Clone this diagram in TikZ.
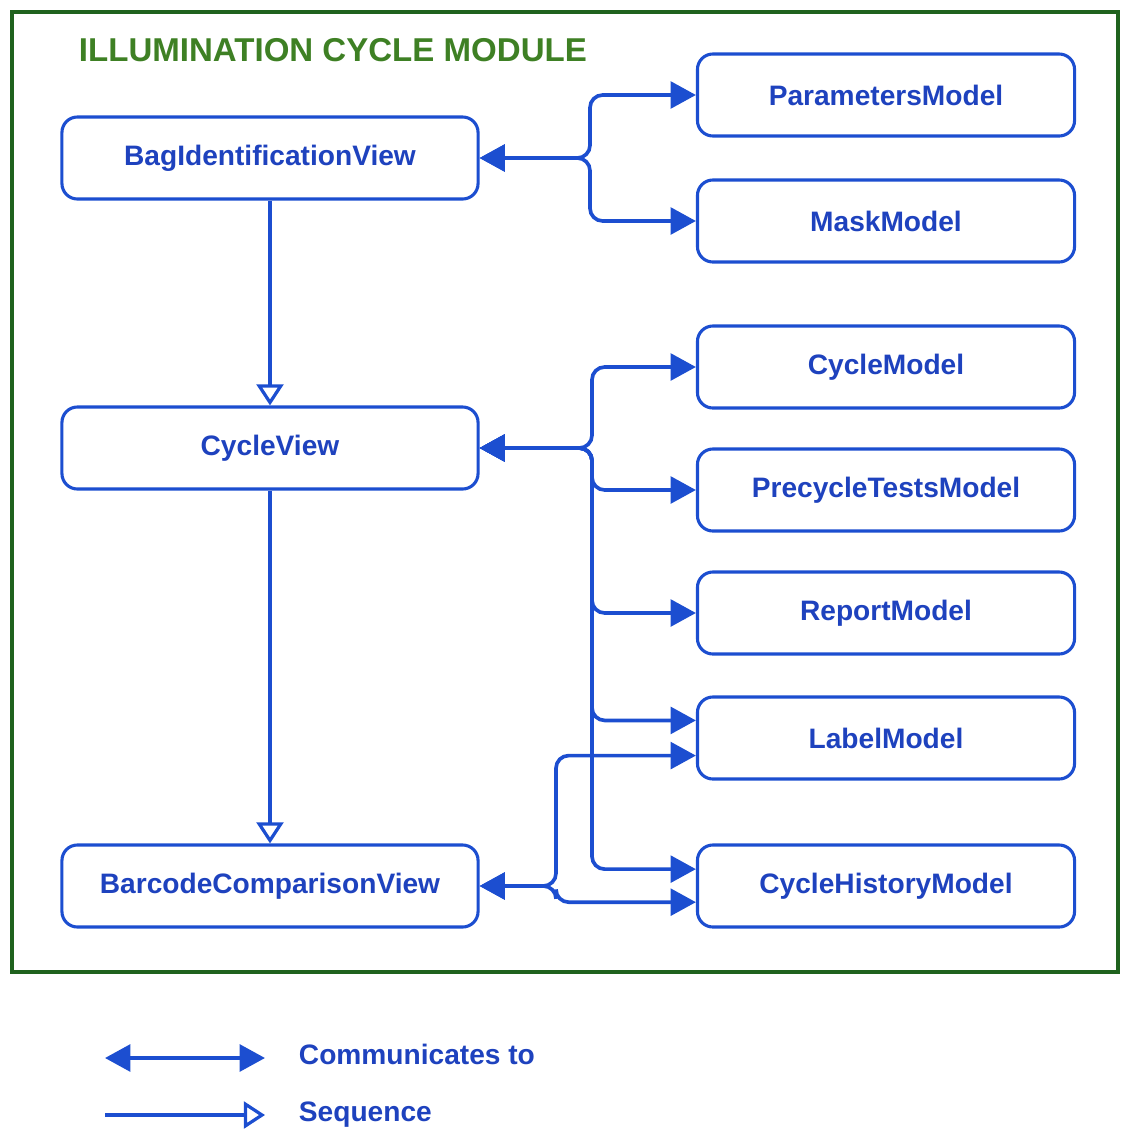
\documentclass[tikz,border=0pt]{standalone}
\usepackage{fontspec}
\setmainfont{Liberation Sans}
\usepackage{tikz}
\usetikzlibrary{arrows.meta, positioning}

\definecolor{cblue}{RGB}{28,78,208}
\definecolor{ctext}{RGB}{30,66,190}
\definecolor{ctitle}{RGB}{62,128,36}
\definecolor{cframe}{RGB}{32,98,30}

\tikzset{
  viewbox/.style={draw=cblue, line width=2.2pt, rounded corners=11pt, fill=white,
    minimum width=10.4cm, minimum height=2.05cm, text=ctext,
    font=\bfseries\fontsize{20}{24}\selectfont},
  modelbox/.style={viewbox, minimum width=9.425cm},
  comm/.style={draw=cblue, line width=2.6pt, rounded corners=9pt,
    {Triangle[length=18pt,width=19pt]}-{Triangle[length=18pt,width=19pt]}},
  seq/.style={draw=cblue, line width=2.3pt,
    -{Triangle[open,length=15pt,width=19pt]}},
  legendtext/.style={anchor=west, text=ctext, font=\bfseries\fontsize{20}{24}\selectfont}
}

\begin{document}
\begin{tikzpicture}[x=0.025cm, y=-0.025cm]
  \useasboundingbox (0,0) rectangle (1121,1131);
  % Module frame and title
  \draw[cframe, line width=2.2pt] (12,12) rectangle (1118,972);
  \node[anchor=west, text=ctitle, font=\bfseries\fontsize{23.5}{28}\selectfont] (title) at (74,50) {ILLUMINATION CYCLE MODULE};
  % Views
  \node[viewbox] (bag) at (270,158) {BagIdentificationView};
  \node[viewbox] (cyc) at (270,448) {CycleView};
  \node[viewbox] (bar) at (270,886) {BarcodeComparisonView};
  % Models
  \foreach \name/\y/\txt in {param/95/ParametersModel, mask/221/MaskModel,
      cmod/367/CycleModel, pre/490/PrecycleTestsModel, rep/613/ReportModel,
      lab/738/LabelModel, hist/886/CycleHistoryModel} {
    \node[modelbox] (\name) at (886,\y) {\txt};
  }
  % Trunks
  \coordinate (t1) at (590,0);
  \coordinate (t2) at (592,0);
  \coordinate (t3) at (556,0);
  % Communicates to
  \draw[comm] (bag.east) -- (bag.east -| t1) |- (param.west);
  \draw[comm] (bag.east) -- (bag.east -| t1) |- (mask.west);
  \draw[comm] (cyc.east) -- (cyc.east -| t2) |- (cmod.west);
  \draw[comm] (cyc.east) -- (cyc.east -| t2) |- (pre.west);
  \draw[comm] (cyc.east) -- (cyc.east -| t2) |- (rep.west);
  \draw[comm] (cyc.east) -- (cyc.east -| t2) |- ([yshift=12.5pt]lab.west);
  \draw[comm] (cyc.east) -- (cyc.east -| t2) |- ([yshift=12pt]hist.west);
  \draw[comm] (bar.east) -- (bar.east -| t3) |- ([yshift=-12.5pt]lab.west);
  \draw[comm] (bar.east) -- (bar.east -| t3) |- ([yshift=-11.5pt]hist.west);
  % Sequence
  \draw[seq] (bag.south) -- (cyc.north);
  \draw[seq] (cyc.south) -- (bar.north);
  % Legend
  \coordinate (l1a) at (105,1058);
  \coordinate (l1b) at (265,1058);
  \coordinate (l2a) at (105,1115);
  \coordinate (l2b) at (265,1115);
  \draw[comm] (l1a) -- (l1b);
  \draw[seq] (l2a) -- (l2b);
  \node[legendtext] (commtxt) at (294,1054) {Communicates to};
  \node[legendtext] (seqtxt) at (294,1115) {Sequence};
\end{tikzpicture}
\end{document}
